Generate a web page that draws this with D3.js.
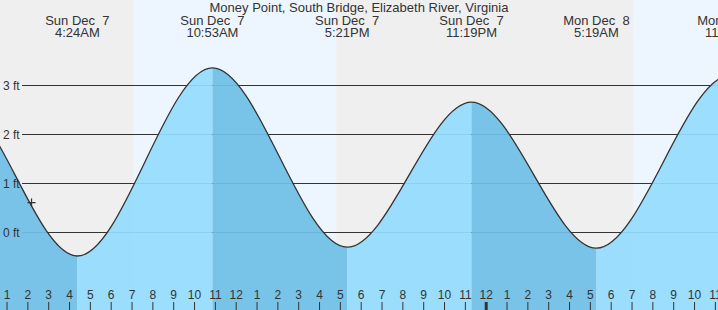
<!DOCTYPE html>
<html>
<head>
<meta charset="utf-8">
<script src="https://cdn.jsdelivr.net/npm/d3@7"></script>
<style>
  html, body { margin: 0; padding: 0; background: #fff; }
  svg { display: block; font-family: "Liberation Sans", Arial, sans-serif; }
</style>
</head>
<body>
<div id="chart"></div>
<script>
const stationName = "Money Point, South Bridge, Elizabeth River, Virginia";

// tide extremes (local time) and heights in feet; first and last lie off the chart
const tideTimes = [
  "2025-12-06T16:20",
  "2025-12-06T22:30",
  "2025-12-07T04:24",
  "2025-12-07T10:53",
  "2025-12-07T17:21",
  "2025-12-07T23:19",
  "2025-12-08T05:19",
  "2025-12-08T11:45",
  "2025-12-08T18:05",
];
const tideHeights = [-0.35, 2.75, -0.49, 3.35, -0.31, 2.65, -0.33, 3.2, -0.3];

// daylight periods
const dayStarts = ["2025-12-07T07:05", "2025-12-08T07:05"];
const dayEnds = ["2025-12-07T16:50", "2025-12-08T16:51"];

const yTicks = [0, 1, 2, 3];

// current reading
const nowTime = "2025-12-07T02:12";
const nowHeight = 0.6;

const width = 718;
const height = 310;

const parse = d3.timeParse("%Y-%m-%dT%H:%M");
const tides = tideTimes.map((t, i) => ({ time: parse(t), h: tideHeights[i] }));

const x = d3
  .scaleTime()
  .domain([parse("2025-12-07T00:00"), parse("2025-12-08T00:00")])
  .range([-14.3, 485.7]);

const y = d3.scaleLinear().domain([0, 3]).range([232, 85]);

const svg = d3
  .select("#chart")
  .append("svg")
  .attr("width", width)
  .attr("height", height);

// night / day background
svg.append("rect").attr("width", width).attr("height", height).attr("fill", "#efefef");
svg
  .selectAll(".day")
  .data(dayStarts)
  .enter()
  .append("rect")
  .attr("class", "day")
  .attr("x", (d) => x(parse(d)))
  .attr("y", 0)
  .attr("width", (d, i) => x(parse(dayEnds[i])) - x(parse(d)))
  .attr("height", height)
  .attr("fill", "#edf6fe");

// horizontal grid
svg
  .selectAll(".grid")
  .data(yTicks)
  .enter()
  .append("line")
  .attr("class", "grid")
  .attr("x1", 22)
  .attr("x2", width)
  .attr("y1", (d) => y(d) + 0.5)
  .attr("y2", (d) => y(d) + 0.5)
  .attr("stroke", "#333")
  .attr("stroke-width", 1);

// tide area, split at each extreme: falling = dark, rising = light
const area = d3
  .area()
  .x((d) => x(d.time))
  .y0(height)
  .y1((d) => y(d.h))
  .curve(d3.curveMonotoneX);

const line = d3
  .line()
  .x((d) => x(d.time))
  .y((d) => y(d.h))
  .curve(d3.curveMonotoneX);

const defs = svg.append("defs");
const segments = d3.pairs(tides);
segments.forEach((s, i) => {
  defs
    .append("clipPath")
    .attr("id", "seg" + i)
    .append("rect")
    .attr("x", x(s[0].time))
    .attr("y", 0)
    .attr("width", x(s[1].time) - x(s[0].time))
    .attr("height", height);
});

svg
  .selectAll(".seg")
  .data(segments)
  .enter()
  .append("path")
  .attr("class", "seg")
  .attr("d", area(tides))
  .attr("clip-path", (d, i) => `url(#seg${i})`)
  .attr("fill", (d) => (d[1].h > d[0].h ? "#95dbfd" : "#6fc0e6"))
  .attr("fill-opacity", 0.93);

svg
  .append("path")
  .attr("d", line(tides))
  .attr("fill", "none")
  .attr("stroke", "#333")
  .attr("stroke-width", 1.3);

svg
  .selectAll(".ylabel")
  .data(yTicks)
  .enter()
  .append("text")
  .attr("class", "ylabel")
  .attr("x", 3)
  .attr("y", (d) => y(d) + 4.5)
  .attr("font-size", 12)
  .attr("fill", "#333")
  .text((d) => d + " ft");

// current position marker
const nx = x(parse(nowTime));
const ny = y(nowHeight);
svg
  .append("path")
  .attr("d", `M${nx - 4},${ny}H${nx + 4}M${nx},${ny - 4}V${ny + 4}`)
  .attr("stroke", "#333")
  .attr("stroke-width", 1.2);

// hour axis at the bottom
const hours = d3.timeHour.range(parse("2025-12-07T01:00"), parse("2025-12-08T12:00"));
const xAxis = d3
  .axisBottom(x)
  .tickValues(hours)
  .tickSize(8)
  .tickPadding(0)
  .tickFormat(d3.timeFormat("%-I"));

const gx = svg.append("g").attr("transform", "translate(0,302)").call(xAxis);
gx.select(".domain").remove();
gx.selectAll(".tick line")
  .attr("stroke", "#333")
  .attr("stroke-width", (d) => (d.getHours() === 0 ? 3 : 1));
gx.selectAll(".tick text")
  .attr("y", -3)
  .attr("dy", 0)
  .attr("font-size", 12)
  .attr("font-family", '"Liberation Sans", Arial, sans-serif')
  .attr("fill", "#333");

// title and extreme labels
svg
  .append("text")
  .attr("x", width / 2)
  .attr("y", 12)
  .attr("text-anchor", "middle")
  .attr("font-size", 13)
  .attr("fill", "#333")
  .text(stationName);

const dayFmt = d3.timeFormat("%a %b %e");
const timeFmt = d3.timeFormat("%-I:%M%p");

const labels = svg
  .selectAll(".ext")
  .data(tides.filter((d) => x(d.time) > 0 && x(d.time) < width + 40))
  .enter()
  .append("text")
  .attr("class", "ext")
  .attr("text-anchor", "middle")
  .attr("font-size", 13)
  .attr("fill", "#333")
  .style("white-space", "pre");

labels
  .append("tspan")
  .attr("x", (d) => x(d.time))
  .attr("y", 24.5)
  .text((d) => dayFmt(d.time));

labels
  .append("tspan")
  .attr("x", (d) => x(d.time))
  .attr("y", 36.5)
  .text((d) => timeFmt(d.time));
</script>
</body>
</html>
